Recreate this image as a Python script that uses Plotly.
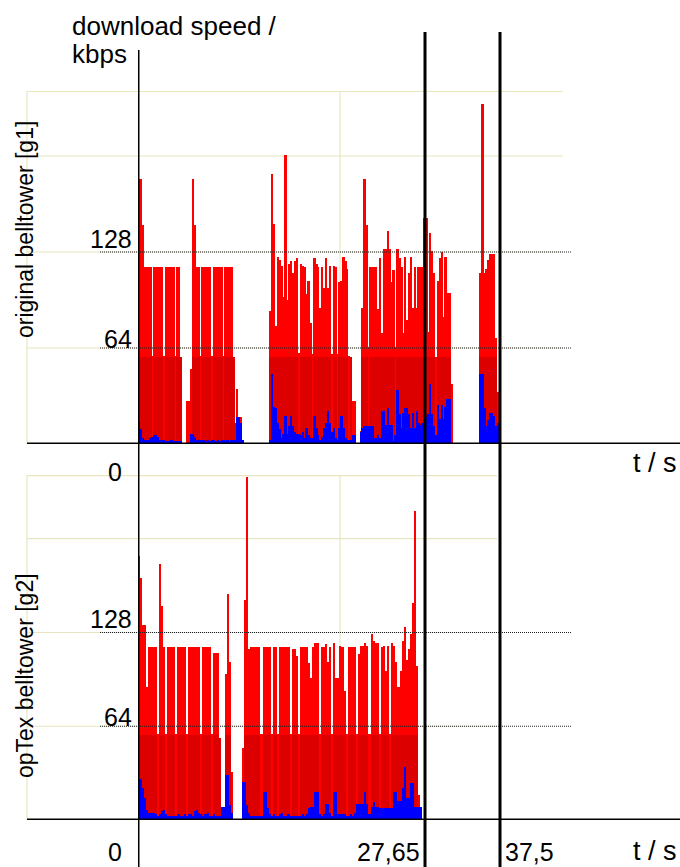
import plotly.graph_objects as go

W, H = 680, 867

# ---------------- data (kbps per 0.2 s sample) ----------------
dt = 0.2

top_total = [
    91, 177, 146, 118, 118, 118, 118, 59, 118, 118,
    118, 118, 118, 59, 118, 118, 118, 118, 118, 59,
    118, 118, 58, 0, 0, 29, 29, 50, 177, 146,
    118, 118, 59, 118, 118, 118, 118, 118, 59, 118,
    118, 118, 118, 118, 59, 118, 118, 118, 118, 58,
    14, 37, 18, 18, 3, 0, 0, 0, 0, 0,
    0, 0, 0, 0, 0, 0, 0, 0, 89, 180,
    147, 79, 125, 123, 119, 98, 193, 96, 120, 122,
    114, 122, 124, 61, 120, 119, 118, 100, 109, 81,
    60, 124, 120, 118, 91, 118, 104, 124, 104, 119,
    60, 119, 118, 60, 108, 109, 125, 122, 117, 59,
    58, 29, 29, 0, 0, 9, 91, 177, 146, 65,
    118, 118, 118, 118, 90, 124, 74, 130, 130, 142,
    130, 108, 116, 65, 130, 124, 118, 74, 125, 83,
    114, 125, 91, 118, 91, 118, 118, 118, 151, 151,
    75, 141, 129, 114, 58, 109, 124, 128, 85, 125,
    101, 101, 40, 0, 0, 0, 0, 0, 0, 0,
    0, 0, 0, 0, 0, 0, 0, 114, 227, 114,
    117, 123, 127, 127, 127, 71, 35,
]
top_dark = [
    58, 58, 58, 58, 58, 58, 58, 0, 58, 58,
    58, 58, 58, 0, 58, 58, 58, 58, 58, 0,
    58, 58, 58, 0, 0, 0, 0, 0, 58, 58,
    58, 58, 0, 58, 58, 58, 58, 58, 0, 58,
    58, 58, 58, 58, 0, 58, 58, 58, 58, 58,
    14, 0, 0, 0, 0, 0, 0, 0, 0, 0,
    0, 0, 0, 0, 0, 0, 0, 0, 58, 58,
    58, 58, 58, 58, 58, 58, 58, 58, 58, 58,
    58, 58, 58, 0, 58, 58, 58, 58, 58, 58,
    0, 58, 58, 58, 58, 58, 58, 58, 58, 58,
    0, 58, 58, 0, 58, 58, 58, 58, 58, 0,
    58, 0, 0, 0, 0, 0, 58, 58, 58, 0,
    58, 58, 58, 58, 58, 58, 58, 58, 58, 58,
    58, 58, 58, 0, 58, 58, 58, 58, 58, 58,
    58, 58, 58, 58, 58, 58, 58, 58, 58, 58,
    58, 58, 58, 58, 0, 58, 58, 58, 58, 58,
    58, 58, 0, 0, 0, 0, 0, 0, 0, 0,
    0, 0, 0, 0, 0, 0, 0, 58, 58, 58,
    58, 58, 58, 58, 58, 58, 0,
]
top_blue = [
    15, 10, 4, 3, 3, 3, 4, 5, 6, 6,
    5, 3, 3, 3, 2, 2, 2, 3, 2, 2,
    2, 2, 2, 0, 0, 0, 0, 7, 7, 5,
    3, 3, 3, 3, 3, 2, 3, 2, 3, 3,
    2, 3, 2, 3, 3, 2, 3, 2, 3, 3,
    3, 18, 18, 14, 3, 0, 0, 0, 0, 0,
    0, 0, 0, 0, 0, 0, 0, 0, 3, 47,
    25, 24, 14, 10, 4, 7, 19, 7, 12, 19,
    12, 8, 7, 7, 6, 8, 4, 11, 6, 4,
    4, 19, 11, 6, 3, 5, 11, 14, 22, 14,
    8, 11, 4, 3, 11, 19, 11, 4, 3, 3,
    3, 6, 6, 0, 0, 8, 11, 12, 12, 12,
    12, 12, 4, 4, 6, 4, 22, 22, 13, 24,
    13, 13, 2, 6, 36, 20, 11, 21, 24, 24,
    20, 11, 21, 11, 22, 14, 13, 14, 14, 18,
    20, 40, 20, 12, 6, 26, 17, 26, 17, 25,
    30, 30, 0, 0, 0, 0, 0, 0, 0, 0,
    0, 0, 0, 0, 0, 0, 0, 47, 47, 24,
    12, 16, 21, 21, 19, 12, 14,
]

bot_total = [
    180, 165, 133, 133, 91, 118, 118, 118, 118, 59,
    175, 146, 118, 59, 118, 118, 118, 118, 59, 118,
    118, 118, 118, 59, 118, 118, 118, 118, 118, 118,
    59, 118, 118, 118, 118, 59, 114, 114, 114, 56,
    9, 9, 100, 154, 108, 33, 0, 0, 0, 0,
    49, 150, 234, 117, 118, 118, 118, 118, 118, 59,
    118, 118, 118, 118, 59, 118, 118, 59, 118, 118,
    118, 118, 118, 59, 117, 117, 112, 59, 118, 118,
    118, 118, 107, 97, 118, 121, 121, 59, 118, 118,
    120, 108, 118, 59, 121, 97, 97, 119, 118, 88,
    59, 118, 118, 118, 118, 59, 113, 119, 119, 121,
    119, 59, 127, 122, 121, 121, 59, 118, 119, 102,
    119, 59, 121, 119, 108, 91, 102, 122, 132, 109,
    117, 127, 148, 211, 105, 17, 9,
]
bot_dark = [
    58, 58, 58, 58, 58, 58, 58, 58, 58, 0,
    58, 58, 58, 0, 58, 58, 58, 58, 0, 58,
    58, 58, 58, 0, 58, 58, 58, 58, 58, 58,
    0, 58, 58, 58, 58, 0, 58, 58, 58, 56,
    0, 0, 58, 58, 58, 0, 0, 0, 0, 0,
    0, 58, 58, 58, 58, 58, 58, 58, 58, 0,
    58, 58, 58, 58, 0, 58, 58, 0, 58, 58,
    58, 58, 58, 0, 58, 58, 58, 0, 58, 58,
    58, 58, 58, 58, 58, 58, 58, 0, 58, 58,
    58, 58, 58, 0, 58, 58, 58, 58, 58, 58,
    0, 58, 58, 58, 58, 0, 58, 58, 58, 58,
    58, 0, 58, 58, 58, 58, 0, 58, 58, 58,
    58, 0, 58, 58, 58, 58, 58, 58, 58, 58,
    58, 58, 58, 58, 58, 0, 0,
]
bot_blue = [
    28, 28, 22, 15, 7, 5, 5, 5, 4, 3,
    4, 6, 7, 4, 3, 3, 3, 3, 3, 4,
    3, 3, 4, 3, 4, 4, 3, 6, 7, 5,
    4, 3, 4, 5, 3, 3, 4, 3, 3, 3,
    9, 9, 31, 31, 10, 5, 0, 0, 0, 0,
    26, 26, 10, 5, 3, 3, 3, 3, 3, 3,
    19, 19, 8, 4, 3, 4, 3, 3, 4, 5,
    3, 3, 4, 3, 3, 3, 3, 3, 3, 4,
    3, 4, 8, 9, 9, 19, 19, 4, 3, 4,
    11, 11, 5, 3, 19, 19, 4, 4, 4, 4,
    3, 3, 4, 3, 5, 11, 11, 11, 11, 19,
    11, 4, 9, 12, 9, 9, 8, 8, 8, 8,
    8, 8, 8, 19, 19, 13, 13, 22, 36, 15,
    15, 25, 25, 9, 9, 9, 9,
]

y_ticks = [0, 64, 128]
y_tick_labels = ["0", "64", "128"]
grid_kbps = [64, 128, 192, 235]
end_times = [27.65, 37.5]          # bottom run end, top run end (s)
end_labels = ["27,65", "37,5"]
panel_titles = ["original belltower [g1]", "opTex belltower [g2]"]
y_title = ["download speed /", "kbps"]
x_title = "t / s"

# ---------------- layout helpers ----------------
FONT = "Liberation Sans, Arial, Helvetica, sans-serif"
RED, DARK, BLUE = "#ff0000", "#dc0000", "#0000ff"
GRIDC = "#e8e6bf"


def px(p):
    return p / W


def py(p):
    return 1 - p / H


def times(n):
    return [round(dt * (i + 0.5), 3) for i in range(n)]


fig = go.Figure()

for xa, ya, tot, dark, blue in [("x", "y", top_total, top_dark, top_blue),
                                ("x2", "y2", bot_total, bot_dark, bot_blue)]:
    t = times(len(tot))
    for vals, col in [(tot, RED), (dark, DARK), (blue, BLUE)]:
        fig.add_trace(go.Bar(x=t, y=vals, width=dt, xaxis=xa, yaxis=ya,
                             marker=dict(color=col, line=dict(width=0)),
                             hoverinfo="skip", showlegend=False))

# pixel geometry of the two panels
top_s = (500 - 138) / end_times[1]       # px per second, top panel
bot_s = (425 - 138) / end_times[0]       # px per second, bottom panel
top_k = 1.5                              # px per kbps, top
bot_k = 1.465                            # px per kbps, bottom

fig.update_layout(
    width=W, height=H, margin=dict(l=0, r=0, t=0, b=0),
    paper_bgcolor="white", plot_bgcolor="rgba(0,0,0,0)",
    barmode="overlay", bargap=0, showlegend=False, hovermode=False,
    xaxis=dict(domain=[px(138), 1], range=[0, (W - 138) / top_s], visible=False, anchor="y"),
    yaxis=dict(domain=[py(444), py(32)], range=[0, (444 - 32) / top_k], visible=False, anchor="x"),
    xaxis2=dict(domain=[px(138), 1], range=[0, (W - 138) / bot_s], visible=False, anchor="y2"),
    yaxis2=dict(domain=[py(820), py(444)], range=[0, (820 - 444) / bot_k], visible=False, anchor="x2"),
)

shapes = []
# pale frames / grids
for ya, right in [("y", 563), ("y2", 497)]:
    for g in grid_kbps:
        shapes.append(dict(type="line", xref="paper", yref=ya, x0=px(27), x1=px(right), y0=g, y1=g,
                           line=dict(color=GRIDC, width=1.2), layer="below"))
    for xv in (27, 340):
        shapes.append(dict(type="line", xref="paper", yref=ya, x0=px(xv), x1=px(xv), y0=0, y1=grid_kbps[-1],
                           line=dict(color=GRIDC, width=1.2), layer="below"))
    # dotted reference lines
    for g in y_ticks[1:]:
        shapes.append(dict(type="line", xref="paper", yref=ya, x0=px(100), x1=px(571), y0=g, y1=g,
                           line=dict(color="#222", width=1.2, dash="1px,1px"), layer="above"))
    # x axis line
    shapes.append(dict(type="line", xref="paper", yref=ya, x0=px(27), x1=1, y0=0, y1=0,
                       line=dict(color="black", width=3), layer="above"))

# y axis line
shapes.append(dict(type="line", xref="x", yref="paper", x0=0, x1=0, y0=0, y1=py(50),
                   line=dict(color="black", width=3), layer="above"))
# end-of-run vertical lines
shapes.append(dict(type="line", xref="x2", yref="paper", x0=end_times[0], x1=end_times[0], y0=0, y1=py(32),
                   line=dict(color="black", width=3), layer="above"))
shapes.append(dict(type="line", xref="x", yref="paper", x0=end_times[1], x1=end_times[1], y0=0, y1=py(32),
                   line=dict(color="black", width=3), layer="above"))
fig.update_layout(shapes=shapes)

ann = []


def txt(text, x, y, size, xanchor="left", yanchor="middle", xref="paper", yref="paper",
        xshift=0, yshift=0, angle=0):
    ann.append(dict(text=text, x=x, y=y, xref=xref, yref=yref, xanchor=xanchor, yanchor=yanchor,
                    xshift=xshift, yshift=yshift, showarrow=False, textangle=angle,
                    font=dict(family=FONT, size=size, color="black")))


TS = 25
for ya, zero_shift in [("y", -28), ("y2", -32)]:
    for v, lab in zip(y_ticks, y_tick_labels):
        if v == 0:
            txt(lab, px(124), v, TS, xanchor="right", yref=ya, yshift=zero_shift)
        else:
            txt(lab, px(134), v, TS, xanchor="right", yref=ya, yshift=13 if v == 128 else 9)

txt(end_labels[0], end_times[0], py(852), TS, xanchor="right", xref="x2", xshift=-3)
txt(end_labels[1], end_times[1], py(852), TS, xanchor="left", xref="x", xshift=3)
txt(x_title, px(679), py(463), 27, xanchor="right")
txt(x_title, px(679), py(851), 27, xanchor="right")

txt(y_title[0], px(70), py(26), 26)
txt(y_title[1], px(70), py(54), 26)

txt(panel_titles[0], px(25), py(230), 23, xanchor="center", angle=-90)
txt(panel_titles[1], px(25), py(676), 23, xanchor="center", angle=-90)

fig.update_layout(annotations=ann)

fig.write_html("out.html", config={"displayModeBar": False})

# remove the browser's default page margin so the figure sits at (0, 0)
with open("out.html", encoding="utf-8") as f:
    page = f.read()
page = page.replace("<head>", "<head><style>html,body{margin:0;padding:0;overflow:hidden;}</style>", 1)
with open("out.html", "w", encoding="utf-8") as f:
    f.write(page)
